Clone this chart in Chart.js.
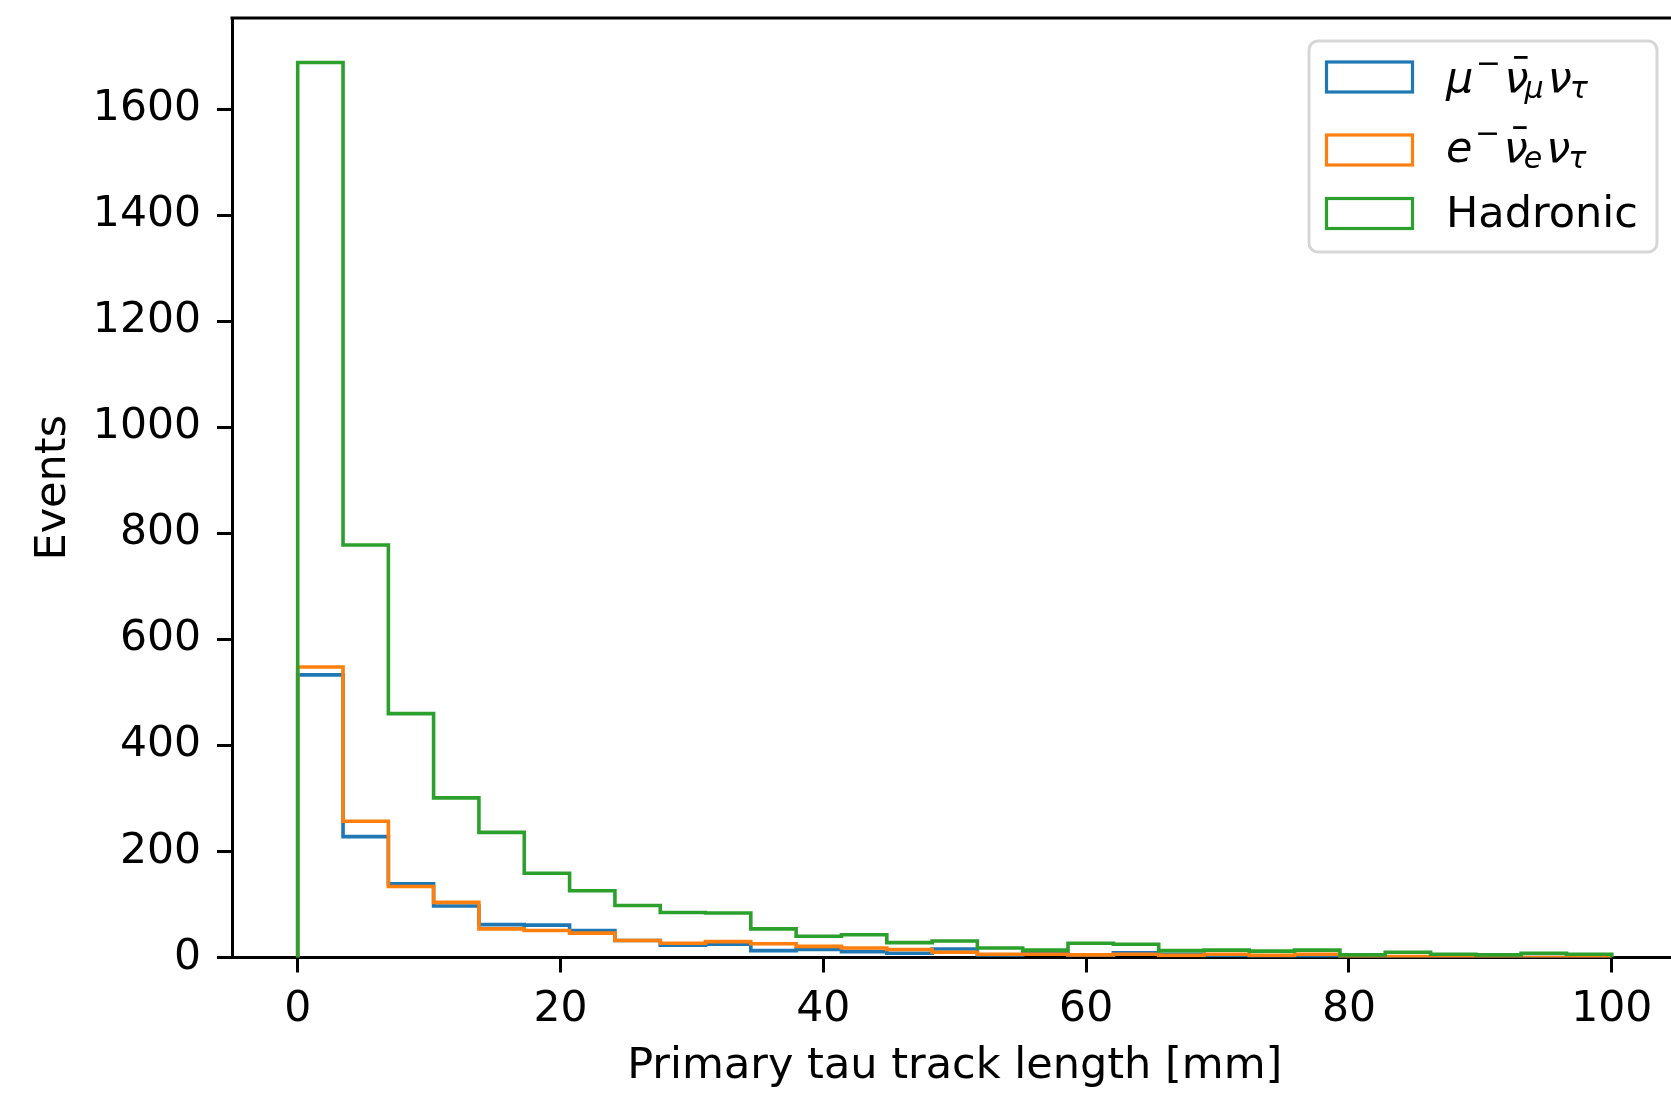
<!DOCTYPE html>
<html>
<head>
<meta charset="utf-8">
<title>Primary tau track length</title>
<script src="https://cdn.jsdelivr.net/npm/chart.js@4.4.1/dist/chart.umd.min.js"></script>
<style>
  html, body { margin: 0; padding: 0; background: #fff; overflow: hidden; }
  #wrap { position: absolute; left: 0; top: 0; width: 1700px; height: 1093px; }
</style>
</head>
<body>
<div id="wrap"><canvas id="chart" width="1700" height="1093"></canvas></div>
<script>
// histogram bin edges (29 bins from 0 to 100 mm)
const binEdges = [0, 3.45, 6.90, 10.34, 13.79, 17.24, 20.69, 24.14, 27.59, 31.03,
  34.48, 37.93, 41.38, 44.83, 48.28, 51.72, 55.17, 58.62, 62.07, 65.52,
  68.97, 72.41, 75.86, 79.31, 82.76, 86.21, 89.66, 93.10, 96.55, 100];

// events per bin
const muCounts = [533, 228, 139, 97, 62, 61, 51, 32, 23, 25, 13, 15, 11, 8, 16,
  5, 7, 5, 9, 6, 4, 3, 3, 1, 0, 0, 1, 0, 0];
const eCounts = [548, 257, 134, 104, 54, 51, 46, 32, 27, 30, 26, 21, 18, 15, 10,
  6, 6, 5, 6, 4, 6, 4, 6, 0, 2, 0, 1, 0, 0];
const hadCounts = [1688, 778, 460, 301, 236, 159, 126, 98, 85, 84, 54, 40, 43, 28, 31,
  18, 14, 27, 25, 13, 14, 12, 14, 5, 10, 6, 5, 8, 6];

const seriesColors = ["#1f77b4", "#ff7f0e", "#2ca02c"];
const xTicks = [0, 20, 40, 60, 80, 100];
const yTicks = [0, 200, 400, 600, 800, 1000, 1200, 1400, 1600];

// legend labels as math pieces: i = italic, sup / sub = small, bar = overbar
const legendLabels = [
  [{t: "μ", k: "i"}, {t: "−", k: "sup"}, {t: "ν", k: "i", bar: true}, {t: "μ", k: "sub"}, {t: "ν", k: "i"}, {t: "τ", k: "sub"}],
  [{t: "e", k: "i"}, {t: "−", k: "sup"}, {t: "ν", k: "i", bar: true}, {t: "e", k: "sub"}, {t: "ν", k: "i"}, {t: "τ", k: "sub"}],
  [{t: "Hadronic", k: "r"}]
];

const FONT = "DejaVu Sans";
const FS = 43;       // axis titles and legend
const TICK_FS = 42.5;

function stepPoints(counts) {
  const pts = [{x: binEdges[0], y: 0}];
  counts.forEach((c, i) => pts.push({x: binEdges[i], y: c}));
  pts.push({x: binEdges[binEdges.length - 1], y: 0});
  return pts;
}

function drawMath(ctx, segs, x, base) {
  const small = FS * 0.7;
  let prev = null;
  for (const s of segs) {
    let size = FS, dy = 0, style = s.k === "r" ? "normal" : "italic";
    if (s.k === "sup") { size = small; dy = -18.5; style = "normal"; }
    if (s.k === "sub") { size = small; dy = 6; }
    // small spacing tweaks, roughly like mathtext
    if (prev) {
      if (s.k === "sup") x += 2.5;
      else if (prev.k === "sup") x += 3.5;
      else if (s.k === "sub") x -= 4;
      else if (prev.k === "sub" && s.k === "i") x += 4;
    }
    if (s.k === "sub" && s.t === "τ") x += 2;
    ctx.font = style + " " + size + "px '" + FONT + "'";
    ctx.fillText(s.t, x, base + dy);
    if (s.bar) ctx.fillRect(x + 9.5, base - 35.5, 13.5, 2.8);
    x += ctx.measureText(s.t).width;
    prev = s;
  }
}

const framePlugin = {
  id: "frame",
  afterDraw(chart) {
    const ctx = chart.ctx;
    const a = chart.chartArea;
    ctx.save();
    // top spine
    ctx.strokeStyle = "#000";
    ctx.lineWidth = 3;
    ctx.beginPath();
    ctx.moveTo(a.left - 1.5, a.top);
    ctx.lineTo(a.right, a.top);
    ctx.stroke();

    // legend frame
    ctx.fillStyle = "rgba(255,255,255,0.8)";
    ctx.strokeStyle = "rgba(204,204,204,0.8)";
    ctx.lineWidth = 3;
    ctx.beginPath();
    ctx.roundRect(1309, 41, 348, 211, 9);
    ctx.fill();
    ctx.stroke();

    const centers = [77, 150, 213.5];
    const baselines = [91.5, 161.7, 226.7];
    legendLabels.forEach((segs, i) => {
      ctx.strokeStyle = seriesColors[i];
      ctx.lineWidth = 3.2;
      ctx.strokeRect(1326.5, centers[i] - 15, 86, 30);
      ctx.fillStyle = "#000";
      ctx.textBaseline = "alphabetic";
      ctx.textAlign = "left";
      drawMath(ctx, segs, 1446, baselines[i]);
    });
    ctx.restore();
  }
};

const tickFont = {family: FONT, size: TICK_FS};
const titleFont = {family: FONT, size: FS};

new Chart(document.getElementById("chart"), {
  type: "line",
  data: {
    datasets: [
      {label: "mu", data: stepPoints(muCounts), borderColor: seriesColors[0], order: 2},
      {label: "e", data: stepPoints(eCounts), borderColor: seriesColors[1], order: 1},
      {label: "Hadronic", data: stepPoints(hadCounts), borderColor: seriesColors[2], order: 0}
    ].map(d => Object.assign(d, {
      stepped: "before", borderWidth: 3.6, pointRadius: 0, fill: false,
      borderJoinStyle: "miter", borderCapStyle: "butt"
    }))
  },
  options: {
    responsive: false,
    devicePixelRatio: 1,
    animation: false,
    events: [],
    layout: {padding: {left: 0, top: 18, right: 22.5, bottom: 0}},
    plugins: {legend: {display: false}, tooltip: {enabled: false}},
    scales: {
      x: {
        type: "linear", min: -5, max: 105,
        afterBuildTicks: s => { s.ticks = xTicks.map(v => ({value: v})); },
        afterFit: s => { s.height = 135.5; s.paddingLeft = 0; s.paddingRight = 0; },
        grid: {drawOnChartArea: false, drawTicks: true, tickLength: 15, tickWidth: 3, tickColor: "#000"},
        border: {display: true, color: "#000", width: 3},
        ticks: {color: "#000", font: tickFont, padding: 11.5, maxRotation: 0, autoSkip: false, callback: v => String(v)},
        title: {display: true, text: "Primary tau track length [mm]", color: "#000", font: titleFont, padding: {top: 0, bottom: 0}}
      },
      y: {
        type: "linear", min: 0, max: 1772,
        afterBuildTicks: s => { s.ticks = yTicks.map(v => ({value: v})); },
        afterFit: s => { s.width = 232; s.paddingTop = 0; s.paddingBottom = 0; },
        grid: {drawOnChartArea: false, drawTicks: true, tickLength: 15, tickWidth: 3, tickColor: "#000"},
        border: {display: true, color: "#000", width: 3},
        ticks: {color: "#000", font: tickFont, padding: 16, autoSkip: false, callback: v => String(v)},
        title: {display: true, text: "Events", color: "#000", font: titleFont, padding: {top: 28.5, bottom: 0}}
      }
    }
  },
  plugins: [framePlugin]
});
</script>
</body>
</html>
